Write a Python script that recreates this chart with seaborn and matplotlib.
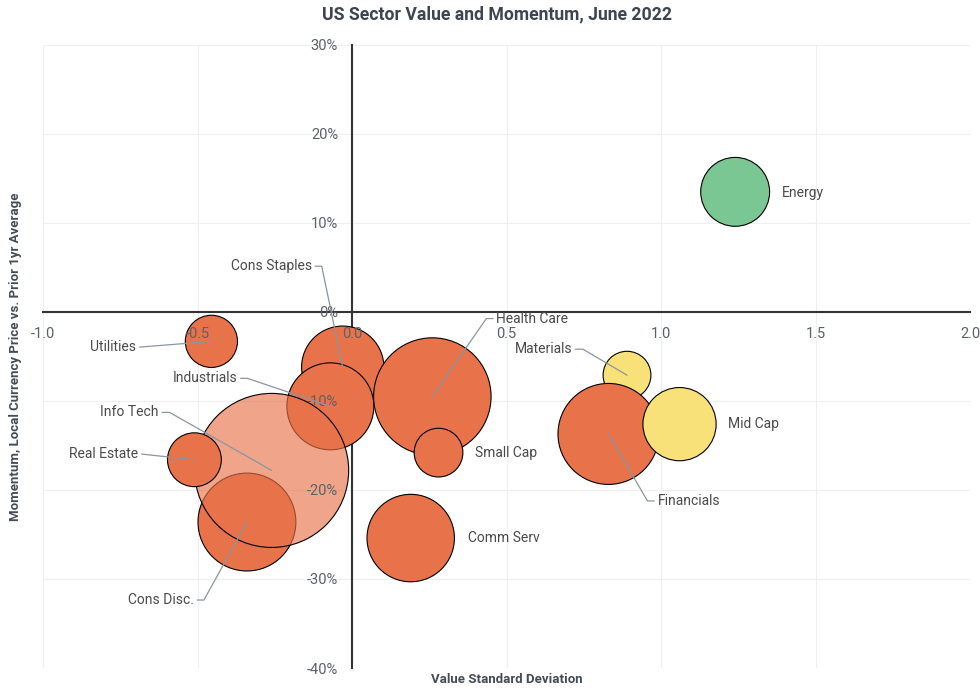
import math
import matplotlib
matplotlib.use('Agg')
import matplotlib.pyplot as plt
from matplotlib.ticker import FuncFormatter
import pandas as pd
import seaborn as sns

# data
sectors = ['Energy', 'Utilities', 'Cons Staples', 'Industrials', 'Health Care', 'Small Cap',
           'Cons Disc.', 'Info Tech', 'Real Estate', 'Comm Serv', 'Materials', 'Financials', 'Mid Cap']
value_sd = [1.24, -0.455, -0.03, -0.07, 0.26, 0.28, -0.34, -0.26, -0.51, 0.19, 0.89, 0.83, 1.06]
momentum = [13.5, -3.3, -6.2, -10.6, -9.5, -15.8, -23.6, -17.8, -16.6, -25.4, -7.1, -13.7, -12.6]
weight = [5.4, 3.1, 7.7, 8.6, 15.7, 2.7, 10.9, 27.0, 3.3, 8.7, 2.6, 11.6, 6.1]
signal = ['Positive', 'Negative', 'Negative', 'Negative', 'Negative', 'Negative',
          'Negative', 'Negative', 'Negative', 'Negative', 'Neutral', 'Negative', 'Neutral']

x_ticks = [-1.0, -0.5, 0.0, 0.5, 1.0, 1.5, 2.0]
y_ticks = [-40, -30, -20, -10, 0, 10, 20, 30]

df = pd.DataFrame({'sector': sectors, 'value_sd': value_sd, 'momentum': momentum,
                   'weight': weight, 'signal': signal})

palette = {'Positive': '#7AC794', 'Neutral': '#F9E17A', 'Negative': '#E8734A'}

sns.set_style('white')
plt.rcParams['font.family'] = ['Roboto', 'DejaVu Sans']

fig = plt.figure(figsize=(9.8, 6.89), dpi=100)
ax = fig.add_axes([43 / 980, 1 - 668 / 689, 927 / 980, 623 / 689])

sns.scatterplot(data=df, x='value_sd', y='momentum', hue='signal', size='weight',
                palette=palette, sizes=(0, 12300), size_norm=(0, 27),
                edgecolor='black', linewidth=0.8, legend=False, ax=ax, zorder=2)

# Info Tech bubble is see-through in the original
pts = ax.collections[0]
fc = pts.get_facecolors()
fc[sectors.index('Info Tech'), 3] = 0.65
pts.set_facecolors(fc)

ax.set_xlim(-1, 2)
ax.set_ylim(-40, 30)

# light grid under the bubbles
for v in x_ticks:
    ax.axvline(v, color='#edf0f2', lw=0.8, zorder=0)
for v in y_ticks:
    ax.axhline(v, color='#edf0f2', lw=0.8, zorder=0)

# axes crossing at the origin
for side in ['top', 'right']:
    ax.spines[side].set_visible(False)
for side in ['left', 'bottom']:
    ax.spines[side].set_position(('data', 0))
    ax.spines[side].set_color('#333333')
    ax.spines[side].set_linewidth(1.5)
    ax.spines[side].set_zorder(1)

ax.set_xticks(x_ticks)
ax.set_yticks(y_ticks)
ax.xaxis.set_major_formatter(FuncFormatter(lambda v, p: f'{v:.1f}'))
ax.yaxis.set_major_formatter(FuncFormatter(lambda v, p: f'{v:.0f}%'))
ax.tick_params(length=0, labelsize=10.5, labelcolor='#5b6168')
ax.tick_params(axis='x', pad=10.5)
ax.tick_params(axis='y', pad=10)
ax.xaxis.set_zorder(3)
ax.yaxis.set_zorder(3)

ax.set_xlabel('Value Standard Deviation', fontsize=9.5, fontweight='semibold', color='#444b53')
ax.xaxis.set_label_coords(0.5, -0.019)
ax.xaxis.label.set_va('center')
ax.set_ylabel('Momentum, Local Currency Price vs. Prior 1yr Average', fontsize=9.5,
              fontweight='semibold', color='#444b53')
ax.yaxis.set_label_coords(-0.030, 0.5)
ax.yaxis.label.set_va('center')

fig.text(496.5 / 980, 1 - 14 / 689, 'US Sector Value and Momentum, June 2022',
         ha='center', va='center', fontsize=12.7, fontweight='bold', color='#3d4550')

# label placement: offset in pixels from bubble centre, alignment, connector stub
label_layout = {
    'Energy': (47, -1, 'left', None),
    'Utilities': (-75, -6, 'right', 0),
    'Cons Staples': (-31, 101, 'right', 10),
    'Industrials': (-93, 28, 'right', 10),
    'Health Care': (64, 78, 'left', 10),
    'Small Cap': (36, 0, 'left', None),
    'Cons Disc.': (-53, -78, 'right', 10),
    'Info Tech': (-113, 58, 'right', 11),
    'Real Estate': (-56, 6, 'right', 0),
    'Comm Serv': (57, 0, 'left', None),
    'Materials': (-55, 26, 'right', 11),
    'Financials': (49, -67, 'left', 10),
    'Mid Cap': (48, 0, 'left', None),
}

for name, x, y in zip(sectors, value_sd, momentum):
    dx, dy, ha, stub = label_layout[name]
    kw = {}
    if stub is not None:
        if stub == 0:
            conn = 'arc3'
        else:
            cx = dx + stub if ha == 'right' else dx - stub
            ang = math.degrees(math.atan2(dy, cx))
            conn = f'angle,angleA=0,angleB={ang:.2f},rad=0'
        kw['arrowprops'] = dict(arrowstyle='-', color='#8a95a3', lw=0.9, shrinkA=0, shrinkB=0,
                                relpos=(1 if ha == 'right' else 0, 0.5), connectionstyle=conn)
    ax.annotate(name, xy=(x, y), xytext=(dx, dy), textcoords='offset pixels',
                ha=ha, va='center', fontsize=10, color='#4a4a4a', zorder=5, **kw)

fig.savefig('out.png', dpi=100)
